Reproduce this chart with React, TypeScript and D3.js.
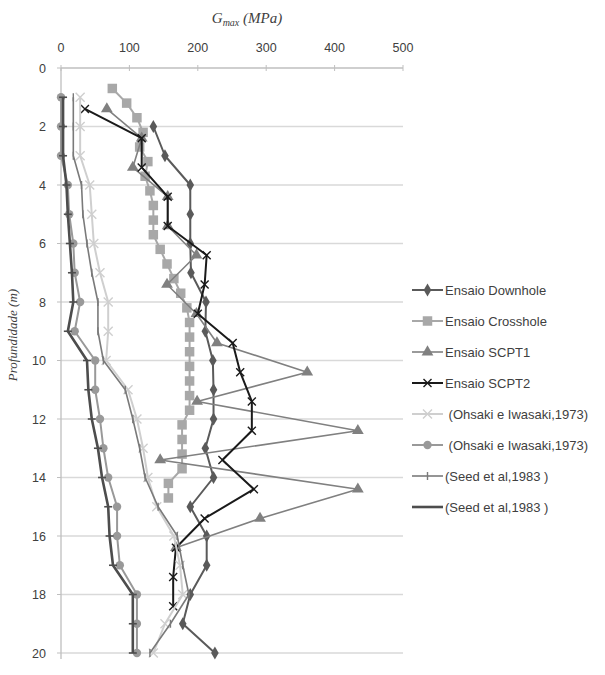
import { line, scaleLinear, select, symbol, symbolCircle, symbolDiamond, symbolSquare, symbolTriangle } from "d3"
import { useEffect, useRef } from "react"

// depth (m) and Gmax (MPa)
const depthDownhole = [2, 3, 4, 5, 6, 7, 8, 9, 10, 11, 12, 13, 14, 15, 16, 17, 18, 19, 20]
const gDownhole = [135, 152, 189, 189, 189, 190, 212, 211, 222, 223, 223, 211, 223, 189, 213, 213, 189, 178, 225]

const depthCrosshole = [0.7, 1.2, 1.7, 2.2, 2.7, 3.2, 3.7, 4.2, 4.7, 5.2, 5.7, 6.2, 6.7, 7.2, 7.7, 8.2, 8.7, 9.2, 9.7, 10.2, 10.7, 11.2, 11.7, 12.2, 12.7, 13.2, 13.7, 14.2, 14.7]
const gCrosshole = [75, 96, 111, 120, 115, 127, 123, 130, 135, 135, 135, 145, 155, 165, 175, 184, 188, 188, 188, 188, 188, 188, 188, 177, 177, 177, 177, 157, 157]

const depthSCPT1 = [1.4, 2.4, 3.4, 4.4, 5.4, 6.4, 7.4, 8.4, 9.4, 10.4, 11.4, 12.4, 13.4, 14.4, 15.4, 16.4]
const gSCPT1 = [67, 118, 105, 156, 156, 198, 155, 198, 228, 360, 199, 434, 145, 434, 291, 168]

const depthSCPT2 = [1.4, 2.4, 3.4, 4.4, 5.4, 6.4, 7.4, 8.4, 9.4, 10.4, 11.4, 12.4, 13.4, 14.4, 15.4, 16.4, 17.4, 18.4]
const gSCPT2 = [35, 118, 118, 156, 156, 213, 210, 200, 251, 262, 279, 279, 236, 282, 210, 168, 164, 164]

const depthEmp = [1, 2, 3, 4, 5, 6, 7, 8, 9, 10, 11, 12, 13, 14, 15, 16, 17, 18, 19, 20]
const gOhsaki1 = [28, 28, 28, 42, 45, 48, 57, 69, 69, 66, 98, 111, 120, 127, 140, 165, 174, 178, 152, 135]
const gOhsaki2 = [0, 0, 0, 10, 12, 18, 20, 28, 20, 50, 50, 57, 62, 69, 82, 82, 86, 111, 111, 111]
const gSeed1 = [18, 18, 18, 30, 32, 38, 45, 54, 54, 62, 94, 105, 115, 123, 142, 170, 178, 187, 160, 130]
const gSeed2 = [3, 3, 3, 8, 10, 13, 16, 18, 10, 38, 40, 45, 54, 60, 69, 71, 76, 105, 105, 105]

const xTicks = [0, 100, 200, 300, 400, 500]
const yTicks = [0, 2, 4, 6, 8, 10, 12, 14, 16, 18, 20]

const series = [
    { name: "Ensaio Downhole", depth: depthDownhole, g: gDownhole, color: "#5a5a5a", width: 2, marker: "diamond", size: 50 },
    { name: "Ensaio Crosshole", depth: depthCrosshole, g: gCrosshole, color: "#a8a8a8", width: 2, marker: "square", size: 90 },
    { name: "Ensaio SCPT1", depth: depthSCPT1, g: gSCPT1, color: "#808080", width: 1.6, marker: "triangle", size: 60 },
    { name: "Ensaio SCPT2", depth: depthSCPT2, g: gSCPT2, color: "#1a1a1a", width: 2, marker: "x", size: 4 },
    { name: " (Ohsaki e Iwasaki,1973)", depth: depthEmp, g: gOhsaki1, color: "#cfcfcf", width: 2, marker: "x", size: 4.5 },
    { name: " (Ohsaki e Iwasaki,1973)", depth: depthEmp, g: gOhsaki2, color: "#999999", width: 2, marker: "circle", size: 55 },
    { name: "(Seed et al,1983 )", depth: depthEmp, g: gSeed1, color: "#7a7a7a", width: 1.6, marker: "plus", size: 4 },
    { name: "(Seed et al,1983 )", depth: depthEmp, g: gSeed2, color: "#4d4d4d", width: 2.6, marker: "dash", size: 4 },
]

const drawMarker = (g, s, cx, cy) => {
    if (s.marker === "x") {
        const r = s.size
        g.append("path")
            .attr("d", `M${cx - r},${cy - r}L${cx + r},${cy + r}M${cx - r},${cy + r}L${cx + r},${cy - r}`)
            .attr("stroke", s.color).attr("stroke-width", 1.4)
    } else if (s.marker === "plus") {
        g.append("path")
            .attr("d", `M${cx},${cy - s.size}L${cx},${cy + s.size}`)
            .attr("stroke", s.color).attr("stroke-width", 1.4)
    } else if (s.marker === "dash") {
        g.append("path")
            .attr("d", `M${cx - s.size},${cy}L${cx + s.size},${cy}`)
            .attr("stroke", s.color).attr("stroke-width", 1.6)
    } else {
        const type = { diamond: symbolDiamond, square: symbolSquare, triangle: symbolTriangle, circle: symbolCircle }[s.marker]
        g.append("path")
            .attr("d", symbol().type(type).size(s.size)())
            .attr("transform", `translate(${cx},${cy})`)
            .attr("fill", s.color)
    }
}

const App = () => {
    const ref = useRef(null)

    useEffect(() => {
        const svg = select(ref.current)
        svg.selectAll("*").remove()

        const x = scaleLinear().domain([0, 500]).range([61, 403])
        const y = scaleLinear().domain([0, 20]).range([68, 653])
        const font = "'Liberation Sans', Arial, sans-serif"

        // grid
        svg.append("g").selectAll("line")
            .data(yTicks.slice(1))
            .join("line")
            .attr("x1", x(0)).attr("x2", x(500))
            .attr("y1", d => y(d)).attr("y2", d => y(d))
            .attr("stroke", "#d9d9d9").attr("stroke-width", 1.3)

        // top axis
        const top = svg.append("g")
        top.append("line").attr("x1", x(0)).attr("x2", x(500)).attr("y1", y(0)).attr("y2", y(0))
            .attr("stroke", "#bfbfbf").attr("stroke-width", 1.3)
        top.selectAll(".tk").data(xTicks).join("line").attr("class", "tk")
            .attr("x1", d => x(d)).attr("x2", d => x(d))
            .attr("y1", y(0) - 3).attr("y2", y(0) + 3)
            .attr("stroke", "#bfbfbf")
        top.selectAll("text").data(xTicks).join("text")
            .attr("x", d => x(d)).attr("y", 52)
            .attr("text-anchor", "middle")
            .attr("font-family", font).attr("font-size", 12.5).attr("fill", "#404040")
            .text(d => d)

        // left axis
        const left = svg.append("g")
        left.append("line").attr("x1", x(0)).attr("x2", x(0)).attr("y1", y(0)).attr("y2", y(20) + 6)
            .attr("stroke", "#bfbfbf").attr("stroke-width", 1.3)
        left.selectAll(".tk").data(yTicks).join("line").attr("class", "tk")
            .attr("x1", x(0) - 4).attr("x2", x(0))
            .attr("y1", d => y(d)).attr("y2", d => y(d))
            .attr("stroke", "#bfbfbf")
        left.selectAll("text").data(yTicks).join("text")
            .attr("x", 46).attr("y", d => y(d) + 4.5)
            .attr("text-anchor", "end")
            .attr("font-family", font).attr("font-size", 12.5).attr("fill", "#404040")
            .text(d => d)

        // titles
        const xt = svg.append("text")
            .attr("x", 247).attr("y", 23)
            .attr("text-anchor", "middle")
            .attr("font-family", "'Liberation Serif', serif").attr("font-style", "italic")
            .attr("font-size", 15).attr("fill", "#404040")
        xt.append("tspan").text("G")
        xt.append("tspan").attr("font-size", 10).attr("dy", 3).text("max")
        xt.append("tspan").attr("dy", -3).text(" (MPa)")

        svg.append("text")
            .attr("transform", "translate(17,335) rotate(-90)")
            .attr("text-anchor", "middle")
            .attr("font-family", "'Liberation Serif', serif").attr("font-style", "italic")
            .attr("font-size", 13).attr("fill", "#404040")
            .text("Profundidade (m)")

        // series
        series.forEach(s => {
            const pts = s.depth.map((d, i) => [x(s.g[i]), y(d)])
            const g = svg.append("g")
            g.append("path")
                .attr("d", line()(pts))
                .attr("fill", "none")
                .attr("stroke", s.color)
                .attr("stroke-width", s.width)
                .attr("stroke-linejoin", "round")
            pts.forEach(([cx, cy]) => drawMarker(g, s, cx, cy))
        })

        // legend
        const legend = svg.append("g")
        series.forEach((s, i) => {
            const ly = 290 + i * 31
            const g = legend.append("g")
            g.append("line").attr("x1", 412).attr("x2", 443).attr("y1", ly).attr("y2", ly)
                .attr("stroke", s.color).attr("stroke-width", s.width)
            drawMarker(g, s, 427.5, ly)
            g.append("text")
                .attr("x", 445).attr("y", ly + 4.5)
                .attr("font-family", font).attr("font-size", 13).attr("fill", "#404040")
                .attr("xml:space", "preserve")
                .style("white-space", "pre")
                .text(s.name)
        })
    }, [])

    return (
        <svg ref={ref} width={605} height={675}
            style={{ position: "absolute", left: 0, top: 0, background: "#fff" }} />
    )
}

export default App
